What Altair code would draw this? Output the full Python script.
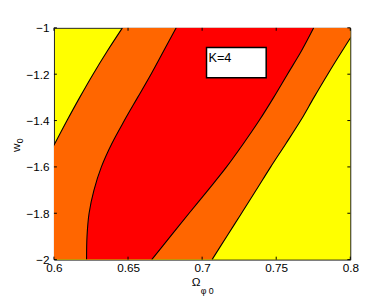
import altair as alt
import pandas as pd

# w0 levels and the four contour boundaries (Omega_phi0)
w_levels = [-1.0, -1.1, -1.2, -1.3, -1.4, -1.5, -1.6, -1.7, -1.8, -1.9, -2.0]
outer_left = [0.6462, 0.636, 0.6264, 0.6174, 0.6088, 0.6005, 0.592, 0.584, 0.576, 0.568, 0.56]
inner_left = [0.6825, 0.674, 0.6655, 0.6565, 0.6475, 0.639, 0.632, 0.627, 0.6237, 0.6223, 0.622]
inner_right = [0.7753, 0.767, 0.7576, 0.7483, 0.7385, 0.7278, 0.7165, 0.704, 0.6912, 0.6786, 0.666]
outer_right = [0.8045, 0.7945, 0.7848, 0.7755, 0.7665, 0.7565, 0.7463, 0.7365, 0.7266, 0.7166, 0.7067]

x_ticks = [0.6, 0.65, 0.7, 0.75, 0.8]
y_ticks = [-2.0, -1.8, -1.6, -1.4, -1.2, -1.0]
label_text = ["K=4"]
x_title = ["Ω", "φ 0"]
y_title = ["w", "0"]

YELLOW = "#FFFF00"
ORANGE = "#FF6600"
RED = "#FF0000"

df = pd.DataFrame({
    "w": w_levels,
    "b1": outer_left,
    "b2": inner_left,
    "b3": inner_right,
    "b4": outer_right,
})

W, H = 303, 237
font = "Liberation Sans"
INTERP = "catmull-rom"

xscale = alt.Scale(domain=[0.6, 0.8], nice=False, zero=False)
yscale = alt.Scale(domain=[-2, -1], nice=False, zero=False)

xaxis = alt.Axis(values=x_ticks, format=".2~f", title="", labelFlush=False,
                 labelOverlap=False, ticks=False, grid=False, domain=False,
                 labelPadding=3, labelFontSize=12,
                 labelFont=font, labelColor="black")
yaxis = alt.Axis(values=y_ticks, format=".1~f", title="", labelFlush=False,
                 labelOverlap=False, ticks=False, grid=False, domain=False,
                 labelPadding=5, labelFontSize=12,
                 labelFont=font, labelColor="black")

X = lambda f: alt.X(f, scale=xscale, axis=xaxis, title="")
Y = lambda f: alt.Y(f, scale=yscale, axis=yaxis, title="")

orange = alt.Chart(df).mark_area(orient="horizontal", color=ORANGE, clip=True,
                                 interpolate=INTERP).encode(
    y=Y("w:Q"), x=X("b1:Q"), x2="b4:Q",
)
red = alt.Chart(df).mark_area(orient="horizontal", color=RED, clip=True,
                              interpolate=INTERP).encode(
    y=Y("w:Q"), x=X("b2:Q"), x2="b3:Q",
)
lines = alt.Chart(df).transform_fold(
    ["b1", "b2", "b3", "b4"], as_=["curve", "omega"]
).mark_line(color="black", strokeWidth=1.1, clip=True, interpolate=INTERP).encode(
    y=Y("w:Q"), x=X("omega:Q"),
    detail="curve:N",
    order=alt.Order("w:Q"),
)

xt = pd.DataFrame({"t": x_ticks})
yt = pd.DataFrame({"t": y_ticks})
tick_bottom = alt.Chart(xt).mark_rule(color="black").encode(
    x=X("t:Q"), y=alt.value(H), y2=alt.value(H - 3))
tick_top = alt.Chart(xt).mark_rule(color="black").encode(
    x=X("t:Q"), y=alt.value(0), y2=alt.value(3))
tick_left = alt.Chart(yt).mark_rule(color="black").encode(
    y=Y("t:Q"), x=alt.value(0), x2=alt.value(3))
tick_right = alt.Chart(yt).mark_rule(color="black").encode(
    y=Y("t:Q"), x=alt.value(W), x2=alt.value(W - 3))

lab = pd.DataFrame({"label": label_text})
box = alt.Chart(lab).mark_rect(fill="white", stroke="black", strokeWidth=1.5).encode(
    x=alt.value(156), x2=alt.value(217), y=alt.value(20), y2=alt.value(51))
txt = alt.Chart(lab).mark_text(align="left", baseline="alphabetic", fontSize=13,
                               font=font, fill="black").encode(
    text="label:N", x=alt.value(158), y=alt.value(35))

# axis titles with subscripts
xt_main = alt.Chart(pd.DataFrame({"s": [x_title[0]]})).mark_text(
    align="left", baseline="alphabetic", fontSize=12, font=font, fill="black").encode(
    text="s:N", x=alt.value(141), y=alt.value(H + 27))
xt_sub = alt.Chart(pd.DataFrame({"s": [x_title[1]]})).mark_text(
    align="left", baseline="alphabetic", fontSize=9, font=font, fill="black").encode(
    text="s:N", x=alt.value(150), y=alt.value(H + 35))
yt_main = alt.Chart(pd.DataFrame({"s": [y_title[0]]})).mark_text(
    align="left", baseline="alphabetic", fontSize=12, font=font, fill="black",
    angle=270).encode(
    text="s:N", x=alt.value(-35), y=alt.value(127))
yt_sub = alt.Chart(pd.DataFrame({"s": [y_title[1]]})).mark_text(
    align="left", baseline="alphabetic", fontSize=9, font=font, fill="black",
    angle=270).encode(
    text="s:N", x=alt.value(-31.5), y=alt.value(118))

chart = alt.layer(orange, red, lines, tick_bottom, tick_top, tick_left, tick_right,
                  box, txt, xt_main, xt_sub, yt_main, yt_sub).properties(
    width=W, height=H,
    autosize=alt.AutoSizeParams(type="none"),
    padding={"left": 47, "top": 17, "right": 13, "bottom": 38},
).configure_view(fill=YELLOW, stroke="#222222", strokeWidth=1)

chart.save("out.html", embed_options={"renderer": "svg", "actions": False})
